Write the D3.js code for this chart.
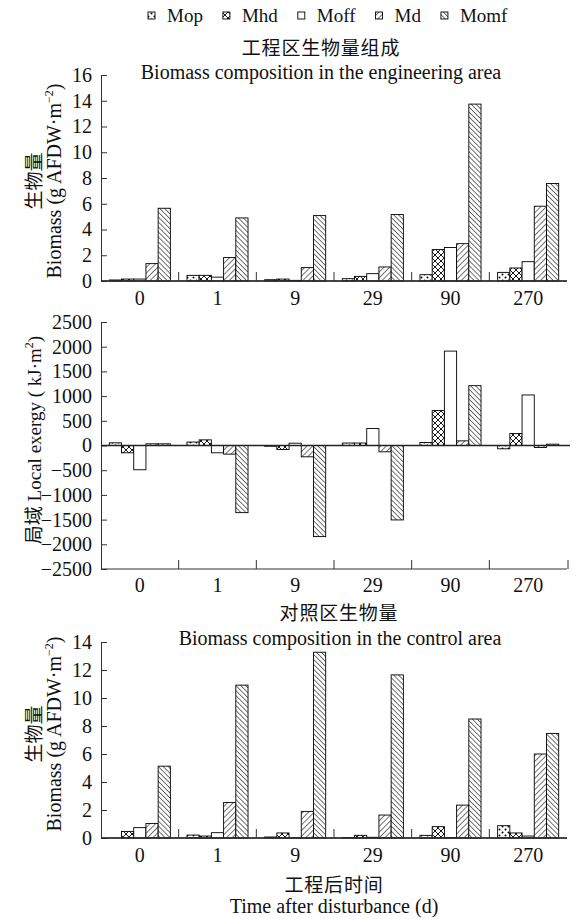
<!DOCTYPE html>
<html>
<head>
<meta charset="utf-8">
<title>Biomass and local exergy</title>
<style>
  body { margin: 0px; background: #fff; overflow: hidden; }
  text { font-family: "Liberation Serif", "Times New Roman", "Noto Sans CJK SC", serif; fill: #111; }
  .cn { font-family: "Noto Sans CJK SC", sans-serif; }
  .tick text { font-size: 20px; }
  .domain, .tick line { stroke: #333; }
</style>
<script src="https://d3js.org/d3.v7.min.js"></script>
</head>
<body>
<svg width="581" height="919"></svg>
<script>
// ---- data ----
const days = ['0', '1', '9', '29', '90', '270'];
const series = ['Mop', 'Mhd', 'Moff', 'Md', 'Momf'];

// engineering area biomass (g AFDW m-2)
const engMop  = [0.08, 0.44, 0.10, 0.18, 0.49, 0.67];
const engMhd  = [0.15, 0.44, 0.15, 0.36, 2.44, 1.01];
const engMoff = [0.15, 0.30, 0.05, 0.57, 2.60, 1.50];
const engMd   = [1.35, 1.82, 1.04, 1.09, 2.90, 5.81];
const engMomf = [5.65, 4.90, 5.08, 5.16, 13.74, 7.57];

// local exergy (kJ m-2)
const exMop  = [54, 70, -15, 50, 60, -67];
const exMhd  = [-148, 114, -80, 50, 707, 242];
const exMoff = [-491, -148, 47, 343, 1911, 1023];
const exMd   = [34, -175, -229, -128, 94, -40];
const exMomf = [34, -1359, -1844, -1507, 1211, 27];

// control area biomass (g AFDW m-2)
const ctrlMop  = [0.00, 0.21, 0.07, 0.03, 0.19, 0.88];
const ctrlMhd  = [0.47, 0.14, 0.36, 0.19, 0.81, 0.36];
const ctrlMoff = [0.74, 0.38, 0.02, 0.05, 0.03, 0.14];
const ctrlMd   = [1.04, 2.54, 1.90, 1.64, 2.35, 6.00];
const ctrlMomf = [5.13, 10.92, 13.27, 11.65, 8.50, 7.47];

const bioTicks = d3.range(0, 17, 2);
const ctrlTicks = d3.range(0, 15, 2);
const exTicks = d3.range(-2500, 2501, 500);

const svg = d3.select('svg');
const defs = svg.append('defs');

// fill patterns
function hatch(id, angle, gap) {
    const p = defs.append('pattern')
        .attr('id', id)
        .attr('patternUnits', 'userSpaceOnUse')
        .attr('width', gap).attr('height', gap)
        .attr('patternTransform', `rotate(${angle})`);
    p.append('rect').attr('width', gap).attr('height', gap).attr('fill', '#fff');
    p.append('line').attr('x1', 0).attr('y1', 0).attr('x2', 0).attr('y2', gap)
        .attr('stroke', '#000').attr('stroke-width', 1.1);
}
hatch('p-Md', 45, 4.0);
hatch('p-Momf', -45, 3.5);

const dots = defs.append('pattern').attr('id', 'p-Mop')
    .attr('patternUnits', 'userSpaceOnUse').attr('width', 6).attr('height', 6);
dots.append('rect').attr('width', 6).attr('height', 6).attr('fill', '#fff');
dots.append('circle').attr('cx', 1.5).attr('cy', 1.5).attr('r', 1).attr('fill', '#000');
dots.append('circle').attr('cx', 4.5).attr('cy', 4.5).attr('r', 1).attr('fill', '#000');

const cross = defs.append('pattern').attr('id', 'p-Mhd')
    .attr('patternUnits', 'userSpaceOnUse').attr('width', 6).attr('height', 6);
cross.append('rect').attr('width', 6).attr('height', 6).attr('fill', '#fff');
cross.append('path').attr('d', 'M0,0L6,6M6,0L0,6')
    .attr('stroke', '#000').attr('stroke-width', 0.9);

const fills = { Mop: 'url(#p-Mop)', Mhd: 'url(#p-Mhd)', Moff: '#fff', Md: 'url(#p-Md)', Momf: 'url(#p-Momf)' };

const minusFmt = d => d < 0 ? '\u2212' + Math.abs(d) : String(d);

// shared x scales
const x = d3.scaleBand().domain(days).range([101, 567]);
const xs = d3.scaleBand().domain(series).range([0, x.bandwidth()]).paddingOuter(0.68);

function drawPanel(cfg) {
    const g = svg.append('g');
    const y = d3.scaleLinear().domain(cfg.domain).range(cfg.range);
    const rows = [];
    days.forEach((d, i) => {
        series.forEach((s, j) => rows.push({ day: d, s: s, v: cfg.values[j][i] }));
    });

    g.selectAll('rect.bar').data(rows).enter().append('rect')
        .attr('class', 'bar')
        .attr('x', d => x(d.day) + xs(d.s))
        .attr('width', xs.bandwidth())
        .attr('y', d => y(Math.max(0, d.v)))
        .attr('height', d => Math.abs(y(d.v) - y(0)))
        .attr('fill', d => fills[d.s])
        .attr('stroke', '#000')
        .attr('stroke-width', 0.9);

    const yAxis = d3.axisLeft(y)
        .tickValues(cfg.ticks)
        .tickFormat(minusFmt)
        .tickSizeInner(-6)
        .tickSizeOuter(0)
        .tickPadding(9);
    g.append('g').attr('transform', 'translate(101,0)').call(yAxis);

    // zero line
    g.append('line')
        .attr('x1', 101).attr('x2', cfg.zeroEnd)
        .attr('y1', y(0)).attr('y2', y(0))
        .attr('stroke', '#222').attr('stroke-width', 1.3);

    // bottom axis with group separators pointing up
    const base = y(cfg.domain[0]);
    g.append('line')
        .attr('x1', 101).attr('x2', 567)
        .attr('y1', base).attr('y2', base)
        .attr('stroke', '#333');
    const seps = days.slice(1).map(d => x(d)).concat(cfg.endTick ? [x.range()[1] + 1] : []);
    g.selectAll('line.sep').data(seps).enter().append('line')
        .attr('class', 'sep')
        .attr('x1', d => d).attr('x2', d => d)
        .attr('y1', base).attr('y2', base - 9)
        .attr('stroke', '#333');
    g.selectAll('text.xl').data(days).enter().append('text')
        .attr('class', 'xl')
        .attr('x', d => x(d) + x.bandwidth() / 2)
        .attr('y', base + cfg.labelDy)
        .attr('text-anchor', 'middle')
        .attr('font-size', '20px')
        .text(d => d);
    return y;
}

drawPanel({
    domain: [0, 16], range: [281, 75], ticks: bioTicks,
    values: [engMop, engMhd, engMoff, engMd, engMomf],
    zeroEnd: 567, labelDy: 24, endTick: false
});
drawPanel({
    domain: [-2500, 2500], range: [569, 322], ticks: exTicks,
    values: [exMop, exMhd, exMoff, exMd, exMomf],
    zeroEnd: 570, labelDy: 23, endTick: true
});
drawPanel({
    domain: [0, 14], range: [838, 642], ticks: ctrlTicks,
    values: [ctrlMop, ctrlMhd, ctrlMoff, ctrlMd, ctrlMomf],
    zeroEnd: 567, labelDy: 24, endTick: false
});

// legend
const legend = svg.append('g');
let lx = 148;
series.forEach(s => {
    legend.append('rect')
        .attr('x', lx).attr('y', 12).attr('width', 7).attr('height', 7)
        .attr('fill', fills[s]).attr('stroke', '#000').attr('stroke-width', 0.9);
    const t = legend.append('text')
        .attr('x', lx + 19).attr('y', 22)
        .attr('font-size', '19px')
        .text(s);
    lx += 19 + t.node().getComputedTextLength() + 20;
});

// titles
svg.append('text').attr('class', 'cn')
    .attr('x', 321).attr('y', 55).attr('text-anchor', 'middle')
    .attr('font-size', '19px').attr('letter-spacing', '0.8px')
    .text('工程区生物量组成');
svg.append('text')
    .attr('x', 321).attr('y', 79).attr('text-anchor', 'middle')
    .attr('font-size', '20px')
    .text('Biomass composition in the engineering area');

svg.append('text').attr('class', 'cn')
    .attr('x', 339).attr('y', 620).attr('text-anchor', 'middle')
    .attr('font-size', '19px').attr('letter-spacing', '0.8px')
    .text('对照区生物量');
svg.append('text')
    .attr('x', 340).attr('y', 645).attr('text-anchor', 'middle')
    .attr('font-size', '20px')
    .text('Biomass composition in the control area');

svg.append('text').attr('class', 'cn')
    .attr('x', 334).attr('y', 892).attr('text-anchor', 'middle')
    .attr('font-size', '19px').attr('letter-spacing', '0.8px')
    .text('工程后时间');
svg.append('text')
    .attr('x', 334).attr('y', 913).attr('text-anchor', 'middle')
    .attr('font-size', '20px')
    .text('Time after disturbance (d)');

// y-axis titles
function biomassTitle(cy) {
    svg.append('text').attr('class', 'cn')
        .attr('transform', `translate(41,${cy}) rotate(-90)`)
        .attr('text-anchor', 'middle')
        .attr('font-size', '19px')
        .text('生物量');
    const t2 = svg.append('text')
        .attr('transform', `translate(61,${cy}) rotate(-90)`)
        .attr('text-anchor', 'middle')
        .attr('font-size', '20px');
    t2.append('tspan').text('Biomass (g AFDW·m');
    t2.append('tspan').attr('font-size', '12px').attr('dy', -8).text('−2');
    t2.append('tspan').attr('dy', 8).text(')');
}
biomassTitle(181);
biomassTitle(734);

const ex = svg.append('text')
    .attr('transform', 'translate(41,440) rotate(-90)')
    .attr('text-anchor', 'middle')
    .attr('font-size', '19px');
ex.append('tspan').attr('class', 'cn').text('局域');
ex.append('tspan').text(' Local exergy ( kJ·m');
ex.append('tspan').attr('font-size', '12px').attr('dy', -8).text('2');
ex.append('tspan').attr('dy', 8).text(')');
</script>
</body>
</html>
